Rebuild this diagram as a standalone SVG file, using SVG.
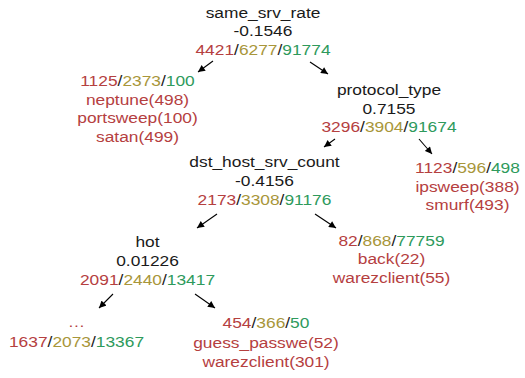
<svg xmlns="http://www.w3.org/2000/svg" width="525" height="378" viewBox="0 0 525 378">
<defs>
<style>
text{font-family:"Liberation Sans",Arial,Helvetica,sans-serif;font-size:15.5px;text-anchor:middle;fill:#1a1a1a}
.r{fill:#b5403f}.o{fill:#a8963a}.g{fill:#2e9a5c}.k{fill:#1a1a1a}
.e line{stroke:#000;stroke-width:1.1}
</style>
<marker id="ah" viewBox="0 0 10 10" refX="10" refY="5" markerUnits="userSpaceOnUse" markerWidth="8" markerHeight="7" orient="auto"><path d="M0,0L10,5L0,10z" fill="#000"/></marker>
</defs>
<rect width="525" height="378" fill="#fff"/>
<g id="root" transform="translate(263,0) scale(1.12,1)">
<text x="0" y="18">same_srv_rate</text>
<text x="0" y="36.5">-0.1546</text>
<text x="0" y="55"><tspan class="r">4421</tspan>/<tspan class="o">6277</tspan>/<tspan class="g">91774</tspan></text>
</g>
<g id="leafA" transform="translate(137.5,0) scale(1.12,1)">
<text x="0" y="86"><tspan class="r">1125</tspan>/<tspan class="o">2373</tspan>/<tspan class="g">100</tspan></text>
<text class="r" x="0" y="104.6">neptune(498)</text>
<text class="r" x="0" y="123.2">portsweep(100)</text>
<text class="r" x="0" y="141.8">satan(499)</text>
</g>
<g id="protocol" transform="translate(389,0) scale(1.12,1)">
<text x="0" y="95">protocol_type</text>
<text x="0" y="113.6">0.7155</text>
<text x="0" y="132.4"><tspan class="r">3296</tspan>/<tspan class="o">3904</tspan>/<tspan class="g">91674</tspan></text>
</g>
<g id="leafB" transform="translate(467.5,0) scale(1.12,1)">
<text x="0" y="173.3"><tspan class="r">1123</tspan>/<tspan class="o">596</tspan>/<tspan class="g">498</tspan></text>
<text class="r" x="0" y="191.9">ipsweep(388)</text>
<text class="r" x="0" y="210.5">smurf(493)</text>
</g>
<g id="dsthost" transform="translate(264.5,0) scale(1.12,1)">
<text x="0" y="167">dst_host_srv_count</text>
<text x="0" y="185.7">-0.4156</text>
<text x="0" y="204.7"><tspan class="r">2173</tspan>/<tspan class="o">3308</tspan>/<tspan class="g">91176</tspan></text>
</g>
<g id="hot" transform="translate(147.5,0) scale(1.12,1)">
<text x="0" y="247">hot</text>
<text x="0" y="266">0.01226</text>
<text x="0" y="285.5"><tspan class="r">2091</tspan>/<tspan class="o">2440</tspan>/<tspan class="g">13417</tspan></text>
</g>
<g id="leafC" transform="translate(391.5,0) scale(1.12,1)">
<text x="0" y="245.7"><tspan class="r">82</tspan>/<tspan class="o">868</tspan>/<tspan class="g">77759</tspan></text>
<text class="r" x="0" y="264.5">back(22)</text>
<text class="r" x="0" y="283.3">warezclient(55)</text>
</g>
<g id="leafD" transform="translate(76.5,0) scale(1.12,1)">
<text class="r" x="0" y="327.5">…</text>
<text x="0" y="346.6"><tspan class="r">1637</tspan>/<tspan class="o">2073</tspan>/<tspan class="g">13367</tspan></text>
</g>
<g id="leafE" transform="translate(266,0) scale(1.12,1)">
<text x="0" y="328.5"><tspan class="r">454</tspan>/<tspan class="o">366</tspan>/<tspan class="g">50</tspan></text>
<text class="r" x="0" y="347.8">guess_passwe(52)</text>
<text class="r" x="0" y="367.2">warezclient(301)</text>
</g>
<g id="connectors" class="e">
<line x1="213" y1="61" x2="198" y2="72" marker-end="url(#ah)"/>
<line x1="310" y1="62" x2="328" y2="74" marker-end="url(#ah)"/>
<line x1="335" y1="139" x2="324" y2="147" marker-end="url(#ah)"/>
<line x1="419" y1="139" x2="432" y2="154" marker-end="url(#ah)"/>
<line x1="217" y1="214" x2="197" y2="228" marker-end="url(#ah)"/>
<line x1="315" y1="214" x2="336" y2="228" marker-end="url(#ah)"/>
<line x1="113" y1="294" x2="99" y2="308" marker-end="url(#ah)"/>
<line x1="195" y1="294" x2="215" y2="308" marker-end="url(#ah)"/>
</g>
</svg>
